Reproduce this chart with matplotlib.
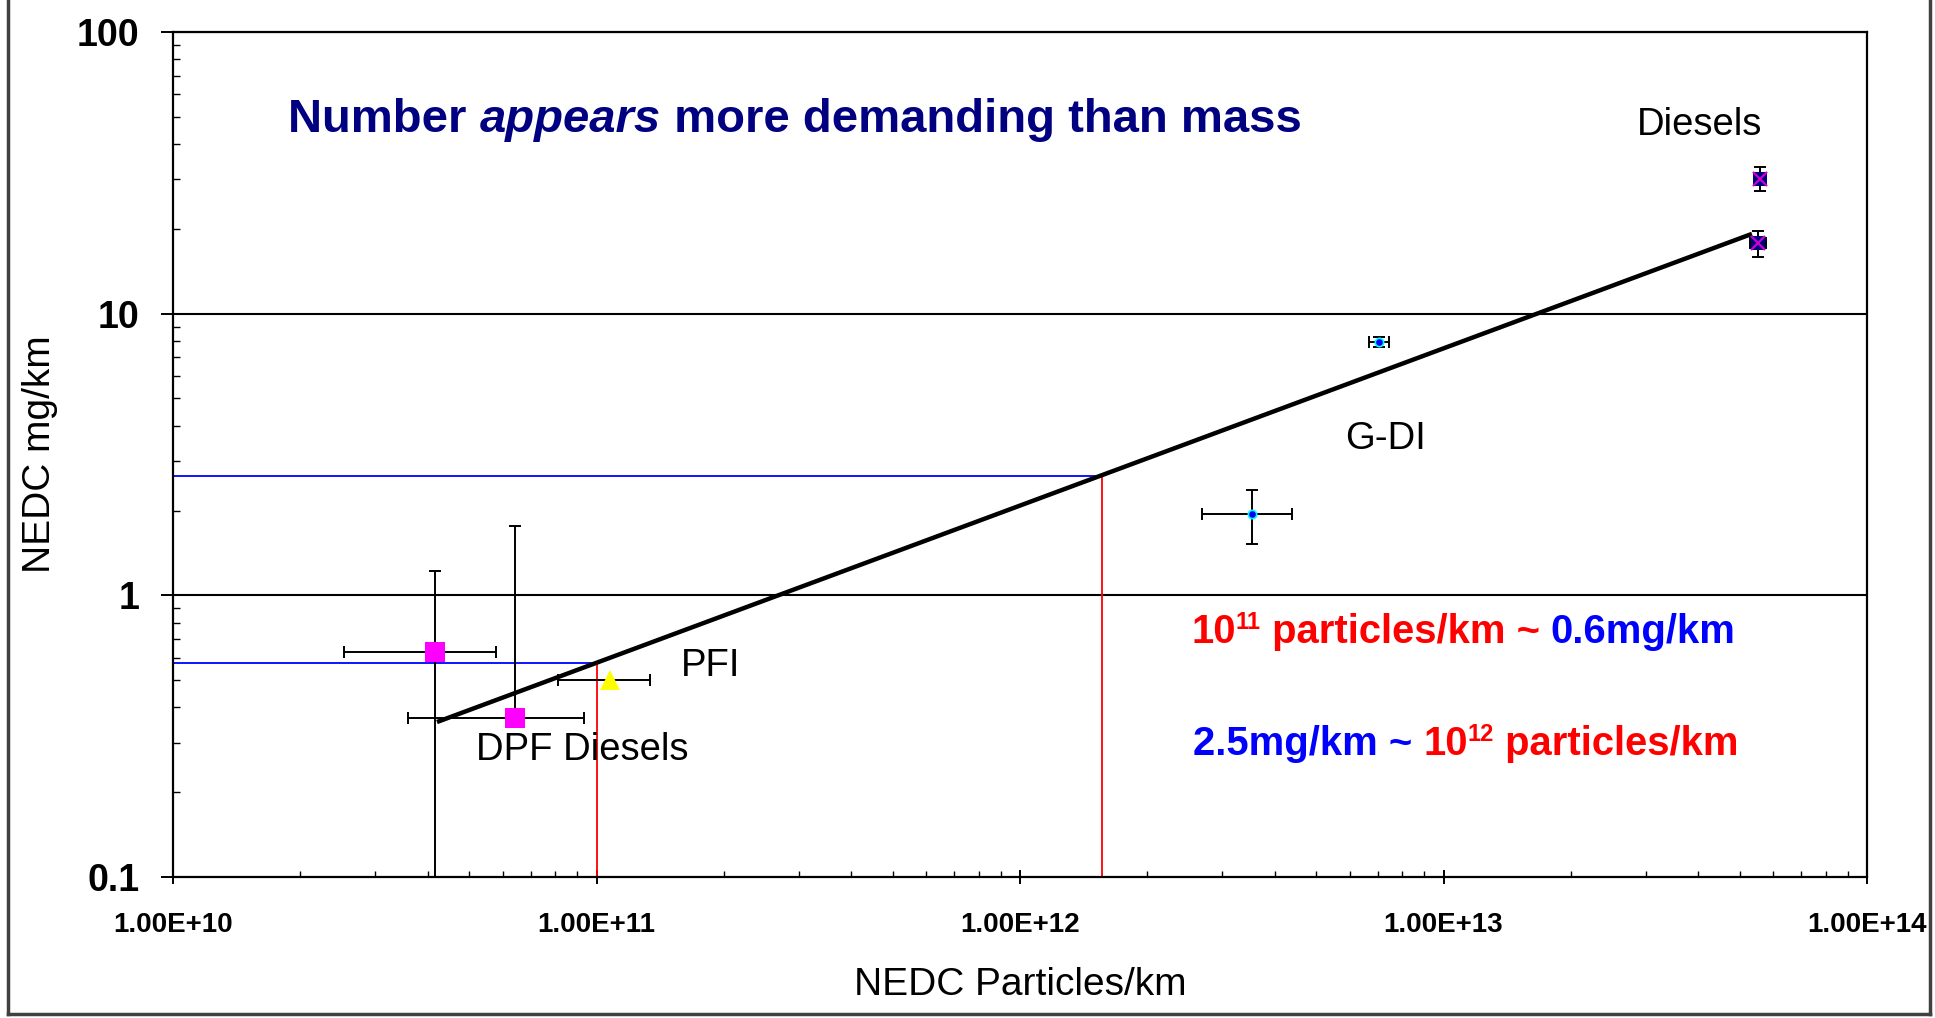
import numpy as np
import matplotlib
matplotlib.use("Agg")
import matplotlib.pyplot as plt
from matplotlib.lines import Line2D
from matplotlib.ticker import LogLocator, FixedLocator, FixedFormatter, NullFormatter

plt.rcParams['font.family'] = ['Liberation Sans', 'DejaVu Sans']

# Diesels (particles/km, mg/km) with error bounds
diesel_x = [5.59e13, 5.53e13]
diesel_y = [30.1, 17.8]
diesel_x_lo = [5.45e13, 5.30e13]
diesel_x_hi = [5.73e13, 5.77e13]
diesel_y_lo = [27.3, 15.9]
diesel_y_hi = [33.2, 19.7]

# G-DI
gdi_x = [7.04e12, 3.53e12]
gdi_y = [7.93, 1.94]
gdi_x_lo = [6.67e12, 2.69e12]
gdi_x_hi = [7.43e12, 4.39e12]
gdi_y_lo = [7.6, 1.52]
gdi_y_hi = [8.25, 2.36]

# DPF Diesels
dpf_x = [4.16e10, 6.42e10]
dpf_y = [0.629, 0.367]
dpf_x_lo = [2.53e10, 3.59e10]
dpf_x_hi = [5.79e10, 9.34e10]
dpf_y_lo = [0.01, 0.365]
dpf_y_hi = [1.22, 1.76]

# PFI
pfi_x = [1.076e11]
pfi_y = [0.50]
pfi_x_lo = [8.11e10]
pfi_x_hi = [1.337e11]

# correlation line and read-off guides
fit_x = [4.2e10, 5.35e13]
fit_y = [0.355, 19.2]
guide_x = [1e11, 1.56e12]
guide_y = [0.575, 2.65]

x_ticks = [1e10, 1e11, 1e12, 1e13, 1e14]
x_tick_labels = ['1.00E+10', '1.00E+11', '1.00E+12', '1.00E+13', '1.00E+14']
y_ticks = [0.1, 1, 10, 100]
y_tick_labels = ['0.1', '1', '10', '100']

W, H = 1935, 1018


def errs(v, lo, hi):
    v = np.array(v)
    return [v - np.array(lo), np.array(hi) - v]


fig = plt.figure(figsize=(W / 100, H / 100), dpi=100)
renderer = fig.canvas.get_renderer()


def text_row(x, y, pieces):
    # pieces: (string, size, color, style, raise_px); x, y in pixels from top-left
    for s, size, color, style, dy in pieces:
        t = fig.text(x / W, 1 - (y - dy) / H, s, fontsize=size, color=color,
                     fontweight='bold', fontstyle=style, ha='left', va='baseline')
        x = t.get_window_extent(renderer).x1


ax = fig.add_axes([173 / W, 1 - 877 / H, 1694 / W, 845 / H])
ax.set_xscale('log')
ax.set_yscale('log')
ax.set_xlim(1e10, 1e14)
ax.set_ylim(0.1, 100)

# horizontal grid lines at decades
for yv in y_ticks[1:]:
    ax.axhline(yv, color='black', lw=1.5, zorder=1)

# guide lines
for gx, gy in zip(guide_x, guide_y):
    ax.plot([1e10, gx], [gy, gy], color='#0000ff', lw=1.3, zorder=2)
    ax.plot([gx, gx], [0.1, gy], color='#ff0000', lw=1.3, zorder=2)

eb = dict(fmt='none', ecolor='black', elinewidth=1.4, capsize=4.5, capthick=1.4, zorder=3)

ax.errorbar(dpf_x, dpf_y, xerr=errs(dpf_x, dpf_x_lo, dpf_x_hi),
            yerr=errs(dpf_y, dpf_y_lo, dpf_y_hi), **eb)
ax.errorbar(pfi_x, pfi_y, xerr=errs(pfi_x, pfi_x_lo, pfi_x_hi), **eb)
ax.errorbar(gdi_x, gdi_y, xerr=errs(gdi_x, gdi_x_lo, gdi_x_hi),
            yerr=errs(gdi_y, gdi_y_lo, gdi_y_hi), **eb)
ax.errorbar(diesel_x, diesel_y, xerr=errs(diesel_x, diesel_x_lo, diesel_x_hi),
            yerr=errs(diesel_y, diesel_y_lo, diesel_y_hi), **eb)

ax.plot(fit_x, fit_y, color='black', lw=3.2, solid_capstyle='butt', zorder=4)

ax.plot(dpf_x, dpf_y, 's', color='#ff00ff', ms=14, mew=0, zorder=5)
ax.plot(pfi_x, pfi_y, '^', color='#ffff00', ms=14, mew=0, zorder=5)
ax.plot(gdi_x, gdi_y, 'o', color='#0000ff', mec='#00ffff', ms=6, mew=1.2, zorder=5)
ax.plot(diesel_x, diesel_y, 's', color='#000080', ms=10, mew=0, zorder=5)
ax.plot(diesel_x, diesel_y, 'x', color='#cc00cc', ms=10, mew=1.6, zorder=6)

# axes styling
for s in ax.spines.values():
    s.set_linewidth(1.6)
    s.set_color('black')

ax.xaxis.set_major_locator(FixedLocator(x_ticks))
ax.xaxis.set_major_formatter(FixedFormatter(x_tick_labels))
ax.xaxis.set_minor_locator(LogLocator(base=10, subs=np.arange(2, 10)))
ax.xaxis.set_minor_formatter(NullFormatter())
ax.yaxis.set_major_locator(FixedLocator(y_ticks))
ax.yaxis.set_major_formatter(FixedFormatter(y_tick_labels))
ax.yaxis.set_minor_locator(LogLocator(base=10, subs=np.arange(2, 10)))
ax.yaxis.set_minor_formatter(NullFormatter())

ax.tick_params(axis='x', which='major', direction='inout', length=10, width=1.4,
               labelsize=20, pad=20)
ax.tick_params(axis='x', which='minor', direction='in', length=4, width=1.0)
ax.tick_params(axis='y', which='major', direction='out', length=9, width=1.4,
               labelsize=27, pad=15)
ax.tick_params(axis='y', which='minor', direction='in', length=5, width=1.0)
for lbl in ax.get_xticklabels() + ax.get_yticklabels():
    lbl.set_fontweight('bold')

ax.set_xlabel('NEDC Particles/km', fontsize=28)
ax.set_ylabel('NEDC mg/km', fontsize=28)
ax.xaxis.set_label_coords(0.5, -0.106)
ax.yaxis.set_label_coords(-0.068, 0.5)

# title with italic word
navy = '#000080'
text_row(288, 132, [('Number ', 34, navy, 'normal', 0),
                    ('appears', 34, navy, 'italic', 0),
                    (' more demanding than mass', 34, navy, 'normal', 0)])

# group labels
for s, x, y, ha in [('Diesels', 0.901, 0.878, 'center'), ('G-DI', 0.7155, 0.5065, 'center'),
                    ('PFI', 0.300, 0.238, 'left'), ('DPF Diesels', 0.179, 0.1385, 'left')]:
    ax.text(x, y, s, transform=ax.transAxes, fontsize=27.5, ha=ha, va='baseline')

# conversion notes
red = '#ff0000'
blue = '#0000ff'
text_row(1191, 643, [('10', 28.8, red, 'normal', 0), ('11', 17, red, 'normal', 14),
                     (' particles/km ~ ', 28.8, red, 'normal', 0),
                     ('0.6mg/km', 28.8, blue, 'normal', 0)])
text_row(1193, 755, [('2.5mg/km ~ ', 28.8, blue, 'normal', 0),
                     ('10', 28.8, red, 'normal', 0), ('12', 17, red, 'normal', 14),
                     (' particles/km', 28.8, red, 'normal', 0)])

# outer frame
fc = '#404040'
fig.add_artist(Line2D([8 / W, 8 / W], [4 / H, 1], color=fc, lw=2.5))
fig.add_artist(Line2D([1930 / W, 1930 / W], [4 / H, 1], color=fc, lw=2.5))
fig.add_artist(Line2D([8 / W, 1930 / W], [4 / H, 4 / H], color=fc, lw=2.5))

fig.savefig('out.png', dpi=100)
